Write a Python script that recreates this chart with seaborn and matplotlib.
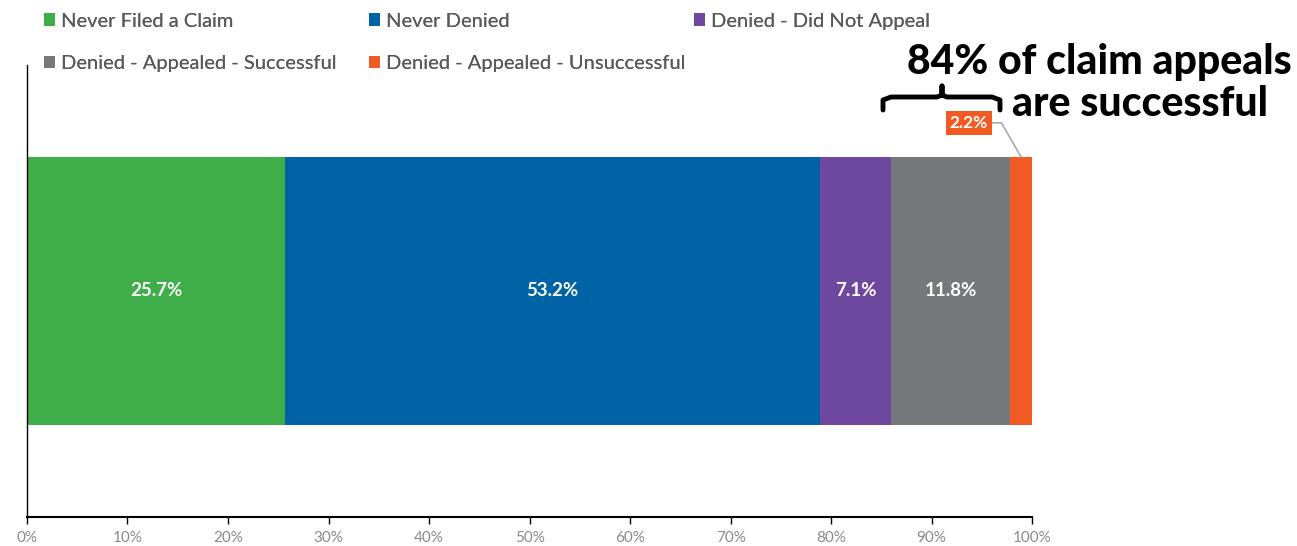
import matplotlib.pyplot as plt
import numpy as np
import pandas as pd
import seaborn as sns
from matplotlib.patches import Patch

categories = [
    "Never Filed a Claim",
    "Never Denied",
    "Denied - Did Not Appeal",
    "Denied - Appealed - Successful",
    "Denied - Appealed - Unsuccessful",
]
shares = [25.7, 53.2, 7.1, 11.8, 2.2]
colors = ["#3FAE49", "#0063A6", "#6E479E", "#77787B", "#F15A22"]
tick_values = list(range(0, 101, 10))
tick_labels = [f"{t}%" for t in tick_values]

sns.set_theme(style="white")
plt.rcParams["font.family"] = ["Lato", "DejaVu Sans"]

data = pd.DataFrame({"Category": categories, "Share": shares, "Color": colors})
data["Right"] = data["Share"].cumsum()
data["Left"] = data["Right"] - data["Share"]
data["Row"] = ""

fig = plt.figure(figsize=(12.97, 5.46), dpi=100)
ax = fig.add_axes([0.0208, 0.0531, 0.775, 0.828])

# stacked bar: draw cumulative totals from the widest down so each overlays the next
for _, row in data.iloc[::-1].iterrows():
    sns.barplot(x=[row["Right"]], y=[row["Row"]], orient="h", color=row["Color"],
                width=0.593, saturation=1, ax=ax, linewidth=0)

ax.set_xlim(0, 100)
ax.set_ylim(0.5, -0.5)
ax.set_xticks(tick_values)
ax.set_xticklabels(tick_labels, color="#8a8a8a", fontsize=11)
ax.set_yticks([])
ax.set_xlabel("")
ax.set_ylabel("")
ax.tick_params(axis="x", length=5, width=1, color="black", direction="out", bottom=True, pad=5)
for side in ["top", "right"]:
    ax.spines[side].set_visible(False)
ax.spines["left"].set_color("black")
ax.spines["left"].set_linewidth(1)
ax.spines["bottom"].set_color("black")
ax.spines["bottom"].set_linewidth(1.5)

for _, row in data.iterrows():
    if row["Share"] < 5:
        continue
    ax.text((row["Left"] + row["Right"]) / 2, 0, f'{row["Share"]:.1f}%', color="white",
            fontsize=13.5, fontweight="bold", ha="center", va="center")

# label for the small orange slice, outside the bar with a leader line
small = data.iloc[-1]
ax.annotate(f'{small["Share"]:.1f}%', xy=((small["Left"] + small["Right"]) / 2, -0.2965),
            xytext=(93.7, -0.372), textcoords="data", color="white", fontsize=12.5,
            fontweight="bold", ha="center", va="center",
            bbox=dict(boxstyle="square,pad=0.22", fc=small["Color"], ec="none"),
            arrowprops=dict(arrowstyle="-", color="#aaaaaa", lw=1.2, shrinkA=0, shrinkB=0,
                            connectionstyle="angle,angleA=0,angleB=120,rad=0"),
            annotation_clip=False)

# curly bracket over the appeal segments (figure pixel coordinates)
bx0, bx1, bmid = 883, 1000, 942
xs = np.array([bx0, bx0, bx0 + 8, bmid - 5, bmid, bmid, bmid, bmid + 5, bx1 - 8, bx1, bx1])
ys = 546 - np.array([110, 100, 97, 97, 95, 86, 95, 97, 97, 100, 110])
fig.add_artist(plt.Line2D(xs / 1297, ys / 546, color="black", lw=3.5,
                          solid_capstyle="round", solid_joinstyle="round"))

fig.text(1292 / 1297, 1 - 62 / 546, "84% of claim appeals", ha="right",
         va="center", fontsize=29.5, fontweight="black", color="black")
fig.text(1268 / 1297, 1 - 104 / 546, "are successful", ha="right",
         va="center", fontsize=29.5, fontweight="black", color="black")

# legend: one column each, placed at the reference column positions
columns = [[0, 3], [1, 4], [2]]
col_x = [26, 351, 676]
for idx, x0 in zip(columns, col_x):
    handles = [Patch(facecolor=colors[i], edgecolor="none", label=categories[i]) for i in idx]
    leg = fig.legend(handles=handles, loc="upper left", bbox_to_anchor=(x0 / 1297, 1.01),
                     ncol=1, frameon=False, fontsize=14.5, handlelength=0.55,
                     handleheight=0.55, handletextpad=0.3, labelspacing=1.28,
                     labelcolor="#595959")
    fig.add_artist(leg)

fig.savefig("out.png", dpi=100)
